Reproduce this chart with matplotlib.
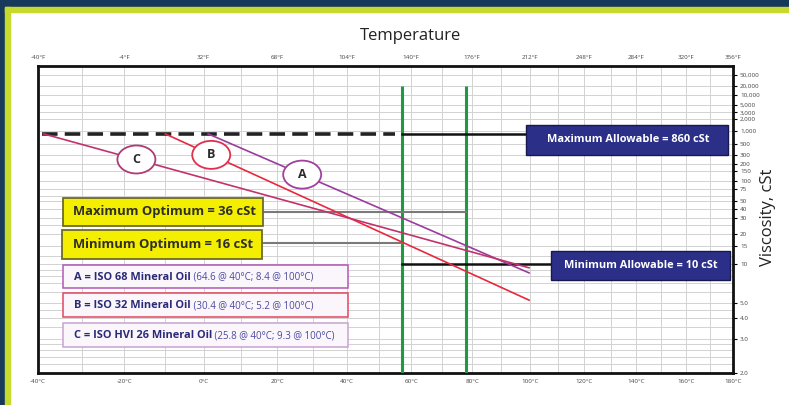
import numpy as np
import matplotlib
matplotlib.use("Agg")
import matplotlib.pyplot as plt
from matplotlib.patches import Rectangle, Ellipse
from matplotlib import transforms

plt.rcParams['font.family'] = ['Open Sans', 'DejaVu Sans']

W, H = 789, 405

# ---------------- data ----------------
temp_c_ticks = [-40, -20, 0, 20, 40, 60, 80, 100, 120, 140, 160, 180]
temp_c_labels = ["-40°C", "-20°C", "0°C", "20°C", "40°C", "60°C", "80°C",
                 "100°C", "120°C", "140°C", "160°C", "180°C"]
temp_f_labels = ["-40°F", "-4°F", "32°F", "68°F", "104°F", "140°F", "176°F",
                 "212°F", "248°F", "284°F", "320°F", "356°F"]
visc_ticks = [2.0, 3.0, 4.0, 5.0, 10, 15, 20, 30, 40, 50, 75, 100, 150, 200,
              300, 500, 1000, 2000, 3000, 5000, 10000, 20000, 50000]
visc_tick_labels = ["2.0", "3.0", "4.0", "5.0", "10", "15", "20", "30", "40",
                    "50", "75", "100", "150", "200", "300", "500", "1,000",
                    "2,000", "3,000", "5,000", "10,000", "20,000", "50,000"]
visc_grid = [2.2, 2.4, 2.6, 2.8, 3.0, 3.5, 4.0, 4.5, 5.0, 6, 7, 8, 9, 10, 12,
             15, 20, 25, 30, 40, 50, 60, 75, 100, 150, 200, 300, 500, 1000,
             2000, 3000, 5000, 10000, 20000, 50000]
temp_grid = list(range(-30, 180, 10))

oil_letters = ["A", "B", "C"]
oil_start_temp = [1, -10, -39]
oil_start_visc = [860, 860, 860]
oil_end_temp = [100, 100, 100]
oil_end_visc = [8.4, 5.2, 9.3]
oil_circle_temp = [27, 2, -17]
oil_names = ["A = ISO 68 Mineral Oil", "B = ISO 32 Mineral Oil",
             "C = ISO HVI 26 Mineral Oil"]
oil_specs = ["(64.6 @ 40°C; 8.4 @ 100°C)", "(30.4 @ 40°C; 5.2 @ 100°C)",
             "(25.8 @ 40°C; 9.3 @ 100°C)"]

max_allowable = 860
min_allowable = 10
max_optimum = 36
min_optimum = 16
op_temps = [57, 78]
green_top_visc = 20000

# colours
oil_line_colors = ["#9a3c9e", "#e8283e", "#c2336c"]
oil_circle_colors = ["#a0409f", "#e0304e", "#b03a74"]
oil_box_colors = ["#b456b4", "#e2465e", "#c9a2d2"]


# ---------------- scales ----------------
def fx(t):
    return np.log10(np.asarray(t, dtype=float) + 273.15)


def ix(u):
    return 10 ** np.asarray(u, dtype=float) - 273.15


def fy(v):
    v = np.maximum(np.asarray(v, dtype=float), 0.35)
    return np.log10(np.log10(v + 0.7))


def iy(w):
    return 10 ** (10 ** np.asarray(w, dtype=float)) - 0.7


def on_line(t0, v0, t1, v1, t):
    fr = (fx(t) - fx(t0)) / (fx(t1) - fx(t0))
    return float(iy(fy(v0) + fr * (fy(v1) - fy(v0))))


fig = plt.figure(figsize=(W / 100, H / 100), dpi=100)
fig.patch.set_facecolor("white")


# page border
def frect(x0, y0, x1, y1, color):
    fig.patches.append(Rectangle((x0 / W, 1 - y1 / H), (x1 - x0) / W, (y1 - y0) / H,
                                 transform=fig.transFigure, color=color, zorder=0))


frect(0, 0, W, 7, "#17395c")
frect(0, 0, 5, H, "#17395c")
frect(5, 7, W, 12, "#c6d92c")
frect(5, 7, 10, H, "#c6d92c")

AX_L, AX_R, AX_T, AX_B = 38, 733, 66, 373
pos = [AX_L / W, 1 - AX_B / H, (AX_R - AX_L) / W, (AX_B - AX_T) / H]
ax = fig.add_axes(pos)
ax.set_xscale("function", functions=(fx, ix))
ax.set_yscale("function", functions=(fy, iy))
ax.set_xlim(-40, 180)
ax.set_ylim(2.0, 110000)
for s in ax.spines.values():
    s.set_linewidth(2.0)
    s.set_color("#111111")

# grid
for t in temp_grid:
    ax.axvline(t, color="#d2d2d2", lw=0.7, zorder=1)
for v in visc_grid:
    ax.axhline(v, color="#d2d2d2", lw=0.7, zorder=1)

# ticks
ax.set_xticks(temp_c_ticks)
ax.set_xticklabels(temp_c_labels)
ax.xaxis.set_minor_locator(matplotlib.ticker.NullLocator())
ax.tick_params(axis="x", length=0, labelsize=4.5, labelcolor="#444444", pad=4)
ax.yaxis.tick_right()
ax.set_yticks(visc_ticks)
ax.set_yticklabels(visc_tick_labels)
ax.yaxis.set_minor_locator(matplotlib.ticker.NullLocator())
ax.tick_params(axis="y", direction="out", length=3, width=0.8,
               labelsize=4.5, labelcolor="#444444", pad=2)

# top Fahrenheit axis
axt = fig.add_axes(pos, frameon=False)
axt.set_xscale("function", functions=(fx, ix))
axt.set_xlim(-40, 180)
axt.set_xticks(temp_c_ticks)
axt.set_xticklabels(temp_f_labels)
axt.xaxis.set_minor_locator(matplotlib.ticker.NullLocator())
axt.xaxis.tick_top()
axt.tick_params(axis="x", length=0, labelsize=4.5, labelcolor="#444444", pad=4)
axt.set_yticks([])
axt.patch.set_alpha(0)

# green operating lines
ax.vlines(op_temps, 2.0, green_top_visc, color="#1f9a40", lw=2.2, zorder=3)

# reference lines
ax.plot([-39, 55], [max_allowable] * 2, color="#222222", lw=2.6,
        dashes=(4.3, 2.0), zorder=3)
ax.plot([op_temps[0], 140], [max_allowable] * 2, color="#111111", lw=1.8, zorder=3)
ax.plot([op_temps[0], 140], [min_allowable] * 2, color="#111111", lw=1.8, zorder=3)
ax.plot([-20, op_temps[1]], [max_optimum] * 2, color="#7a7a7a", lw=1.5, zorder=3)
ax.plot([-20, op_temps[0]], [min_optimum] * 2, color="#7a7a7a", lw=1.5, zorder=3)

# oil lines
for i in range(3):
    ax.plot([oil_start_temp[i], oil_end_temp[i]],
            [oil_start_visc[i], oil_end_visc[i]],
            color=oil_line_colors[i], lw=1.2, zorder=4, solid_capstyle="butt")

# circles
for i in range(3):
    tc = oil_circle_temp[i]
    vc = on_line(oil_start_temp[i], oil_start_visc[i], oil_end_temp[i],
                 oil_end_visc[i], tc)
    tr = fig.dpi_scale_trans + transforms.ScaledTranslation(tc, vc, ax.transData)
    e = Ellipse((0, 0), 0.38, 0.28, transform=tr, facecolor="white",
                edgecolor=oil_circle_colors[i], lw=1.3, zorder=6)
    ax.add_artist(e)
    ax.text(tc, vc, oil_letters[i], ha="center", va="center", fontsize=9,
            fontweight="bold", color="#2b2b2b", zorder=7)


# boxes in pixel layout
def axf(px, py):
    return ((px - AX_L) / (AX_R - AX_L), (AX_B - py) / (AX_B - AX_T))


def box(x0, y0, x1, y1, fc, ec, lw):
    a0 = axf(x0, y1)
    a1 = axf(x1, y0)
    ax.add_patch(Rectangle(a0, a1[0] - a0[0], a1[1] - a0[1], transform=ax.transAxes,
                           facecolor=fc, edgecolor=ec, lw=lw, zorder=8, clip_on=False))


def btext(px, py, s, **kw):
    x, y = axf(px, py)
    return ax.text(x, y, s, transform=ax.transAxes, zorder=9, **kw)


box(526, 125, 728, 155, "#2b2f88", "#181850", 1.0)
btext(628, 140, "Maximum Allowable = 860 cSt", ha="center", va="center",
      fontsize=7.9, fontweight="bold", color="white")
box(551, 251, 730, 280, "#2b2f88", "#181850", 1.0)
btext(641, 265.5, "Minimum Allowable = 10 cSt", ha="center", va="center",
      fontsize=7.9, fontweight="bold", color="white")

box(63, 198, 263, 226, "#f4ee00", "#6e6a2a", 1.3)
btext(164, 212, f"Maximum Optimum = {max_optimum} cSt", ha="center", va="center",
      fontsize=9.4, fontweight="bold", color="#2f2f2a")
box(62, 230, 262, 259, "#f4ee00", "#6e6a2a", 1.3)
btext(163, 244.5, f"Minimum Optimum = {min_optimum} cSt", ha="center", va="center",
      fontsize=9.4, fontweight="bold", color="#2f2f2a")

legend_y = [(265, 288), (293, 317), (323, 347)]
for i in range(3):
    y0, y1 = legend_y[i]
    box(63, y0, 348, y1, "#fbf6fb", oil_box_colors[i], 1.1)
    t1 = btext(74, (y0 + y1) / 2 + 0.5, oil_names[i], ha="left", va="center",
               fontsize=7.9, fontweight="bold", color="#2a2a78")
    ax.annotate(" " + oil_specs[i], xy=(1, 0.5), xycoords=t1, ha="left",
                va="center", fontsize=7.0, color="#4a4aa0", zorder=9)

# axis titles
fig.text(410 / W, 1 - 36 / H, "Temperature", ha="center", va="center",
         fontsize=12, color="#222222")
fig.text(768 / W, 1 - 217 / H, "Viscosity, cSt", ha="center", va="center",
         rotation=90, fontsize=12, color="#222222")

fig.savefig("out.png", dpi=100, facecolor="white")
